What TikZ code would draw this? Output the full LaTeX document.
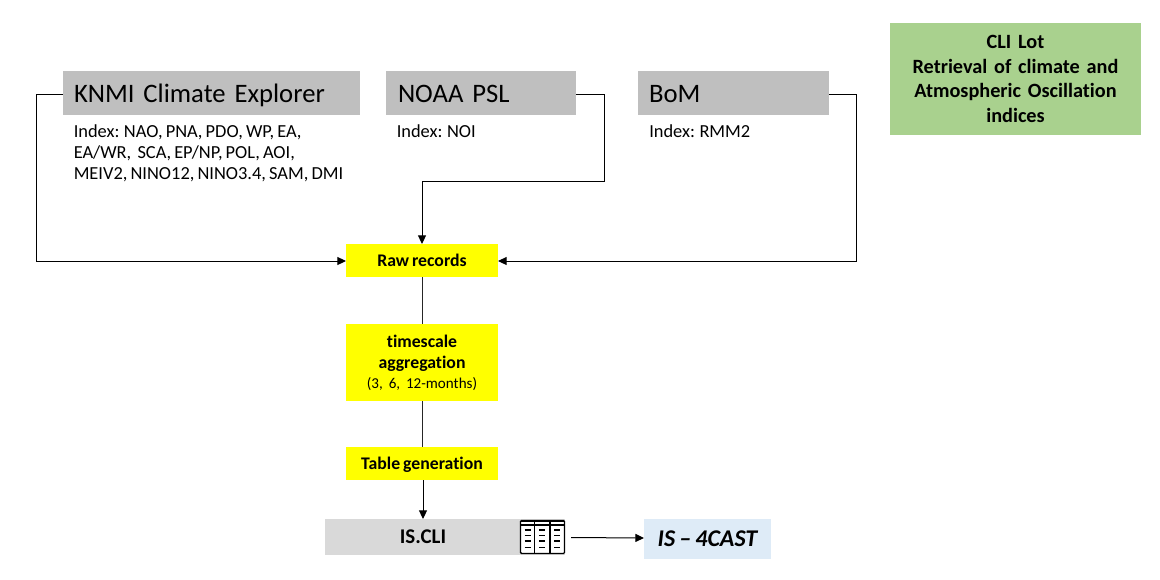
\documentclass[tikz,border=0pt]{standalone}
\usepackage{fontspec}
\setmainfont[Ligatures=NoCommon,WordSpace=0.75]{Carlito}
\usetikzlibrary{arrows.meta}
\definecolor{hdr}{HTML}{BFBFBF}
\definecolor{lot}{HTML}{A9D18E}
\definecolor{ylw}{HTML}{FFFF00}
\definecolor{isg}{HTML}{D9D9D9}
\definecolor{cast}{HTML}{DEEBF7}
\newcommand{\fs}[2]{\fontsize{#1}{#2}\selectfont}
\tikzset{
  x=0.75pt,y=-0.75pt,
  box/.style={inner sep=0pt,outer sep=0pt,anchor=north west,align=center},
  head/.style={box,fill=hdr,font=\fs{20}{24},align=left,minimum height=33pt,text height=18pt,text depth=4pt},
  proc/.style={box,fill=ylw,font=\fs{13.3}{15.8}\bfseries,minimum width=114pt},
  single/.style={proc,minimum height=24.75pt,text height=11pt,text depth=2.5pt},
  idx/.style={inner sep=0pt,anchor=north west,align=left,font=\fs{13.8}{15.6}},
  conn/.style={draw=black,line width=0.75pt,-{Triangle[length=6.5pt,width=6pt]}},
  plainconn/.style={draw=black!85,line width=0.75pt},
  icon/.style={draw=black,line width=1pt},
}
\begin{document}
\begin{tikzpicture}
\useasboundingbox (0,0) rectangle (1160,579);
% source boxes
\node[head,minimum width=222.75pt,text width=206.25pt] (knmi) at (63,71) {KNMI Climate Explorer};
\node[head,minimum width=142.5pt,text width=124.5pt] (noaa) at (386,71) {NOAA PSL};
\node[head,minimum width=143.25pt,text width=126.75pt] (bom) at (638,71) {BoM};
\node[idx] (knmiidx) at (73.5,124.5) {Index: NAO, PNA, PDO, WP, EA,\\EA/WR,\ \ SCA, EP/NP, POL, AOI,\\MEIV2, NINO12, NINO3.4, SAM, DMI};
\node[idx] (noaaidx) at (396.5,124.5) {Index: NOI};
\node[idx] (bomidx) at (649,124.5) {Index: RMM2};
\node[box,fill=lot,minimum width=188.25pt,minimum height=84pt,font=\fs{15.2}{18.6}\bfseries,text width=188.25pt] (lotbox) at (890,23) {CLI Lot\\Retrieval of climate and\\Atmospheric Oscillation\\indices};
% process boxes
\node[single] (raw) at (346,244) {Raw records};
\node[proc,minimum height=57.75pt,text width=114pt] (agg) at (346,324) {timescale\\aggregation\\[-1pt]{\fs{11.3}{13}\mdseries (3, 6, 12-months)}};
\node[single] (tab) at (346,447) {Table generation};
\node[box,fill=isg,minimum width=180pt,minimum height=27pt,font=\fs{15.7}{18}\bfseries] (iscli) at (325,519) {\hspace*{-33pt}IS.CLI};
\node[box,fill=cast,minimum width=95.25pt,minimum height=30pt,font=\fs{18}{22}\bfseries\itshape] (fourcast) at (644,519) {IS -- 4CAST};
% routing corners
\coordinate (k1) at (36,94);
\coordinate (k2) at (36,261);
\coordinate (n1) at (604,94);
\coordinate (n2) at (604,181);
\coordinate (n3) at (422,181);
\coordinate (b1) at (856,94);
\coordinate (b2) at (856,261);
\coordinate (t1) at (571,537.5);
\coordinate (rawtop) at (422,244);
\coordinate (rawbot) at (422,277);
\coordinate (aggtop) at (422,324);
\coordinate (aggbot) at (422.5,401);
\coordinate (tabtop) at (422.5,447);
\coordinate (tabbot) at (423,480);
\coordinate (clitop) at (423,519);
% connectors
\draw[conn] (knmi.west |- k1) -- (k1) -- (k2) -- (raw.west |- k2);
\draw[conn] (noaa.east |- n1) -- (n1) -- (n2) -- (n3) -- (rawtop);
\draw[conn] (bom.east |- b1) -- (b1) -- (b2) -- (raw.east |- b2);
\draw[plainconn] (rawbot) -- (aggtop);
\draw[plainconn] (aggbot) -- (tabtop);
\draw[conn] (tabbot) -- (clitop);
\draw[conn] (t1) -- (fourcast.west |- 0,538);
% table icon
\fill[white] (520.5,520.5) rectangle (564.5,553.5);
\draw[icon,rounded corners=0.8pt] (520.5,520.5) rectangle (564.5,553.5);
\fill[black] (520.5,520.5) rectangle (564.5,521.5);
\draw[icon] (520.5,525) -- (564.5,525);
\draw[icon] (534.5,520.5) -- (534.5,553.5) (550,520.5) -- (550,553.5);
\foreach \cx in {527.5,542.2,557.2}{
  \foreach \cy in {530,535.5,541,547.5}{
    \draw[black,line width=1.2pt] (\cx-3,\cy) -- (\cx+3,\cy);
  }
}
\end{tikzpicture}
\end{document}
